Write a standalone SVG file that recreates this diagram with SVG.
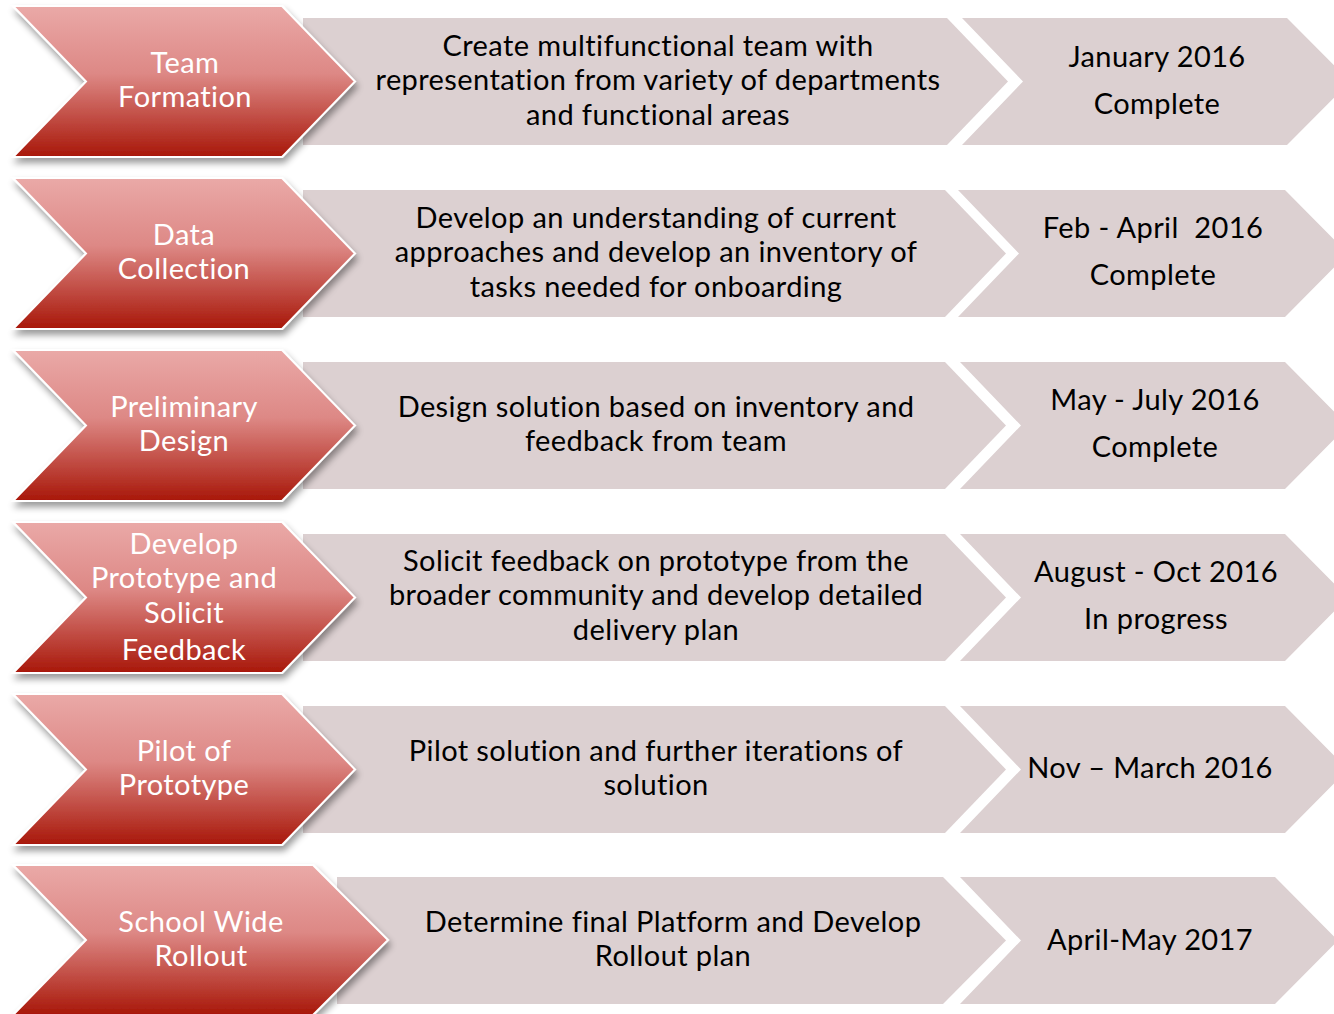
<svg xmlns="http://www.w3.org/2000/svg" width="1334" height="1014" viewBox="0 0 1334 1014">
<defs>
<linearGradient id="red" x1="0" y1="0" x2="0" y2="1">
<stop offset="0" stop-color="#EAA9A7"/>
<stop offset="0.45" stop-color="#DD8885"/>
<stop offset="1" stop-color="#A81709"/>
</linearGradient>
<filter id="sh" x="-10%" y="-10%" width="125%" height="130%">
<feGaussianBlur in="SourceAlpha" stdDeviation="3.5"/>
<feOffset dx="2" dy="5" result="b"/>
<feComponentTransfer><feFuncA type="linear" slope="0.4"/></feComponentTransfer>
<feMerge><feMergeNode/><feMergeNode in="SourceGraphic"/></feMerge>
</filter>
</defs>
<style>
.red{fill:url(#red);stroke:#fff;stroke-width:2;filter:url(#sh)}
.gray{fill:#DCD0D1}
.wt{font-family:Lato,"Open Sans",sans-serif;font-size:29px;letter-spacing:0.4px;fill:#fff;text-anchor:middle}
.bt{font-family:Lato,"Open Sans",sans-serif;font-size:29px;letter-spacing:0.4px;fill:#000;text-anchor:middle}
</style>
<rect width="1334" height="1014" fill="#fff"/>
<g id="connectors"/>

<g id="row1">
<path class="gray" d="M303,18 L947,18 L1008,81.5 L947,145 L303,145 Z"/>
<path class="gray" d="M962,18 L1287,18 L1350,81.5 L1287,145 L962,145 L1023,81.5 Z"/>
<path class="red" d="M13,6 L282,6 L355,81.5 L282,157 L13,157 L86,81.5 Z"/>
<text class="wt" x="185" y="73">Team</text>
<text class="wt" x="185" y="107">Formation</text>
<text class="bt" x="658" y="56">Create multifunctional team with</text>
<text class="bt" x="658" y="90">representation from variety of departments</text>
<text class="bt" x="658" y="125">and functional areas</text>
<text class="bt" x="1157" y="67">January 2016</text>
<text class="bt" x="1157" y="114">Complete</text>
</g>

<g id="row2">
<path class="gray" d="M303,190 L945,190 L1006,253.5 L945,317 L303,317 Z"/>
<path class="gray" d="M958,190 L1285,190 L1348,253.5 L1285,317 L958,317 L1019,253.5 Z"/>
<path class="red" d="M13,178 L282,178 L355,253.5 L282,329 L13,329 L86,253.5 Z"/>
<text class="wt" x="184" y="245">Data</text>
<text class="wt" x="184" y="279">Collection</text>
<text class="bt" x="656" y="228">Develop an understanding of current</text>
<text class="bt" x="656" y="262">approaches and develop an inventory of</text>
<text class="bt" x="656" y="297">tasks needed for onboarding</text>
<text class="bt" x="1153" y="238" xml:space="preserve">Feb - April  2016</text>
<text class="bt" x="1153" y="285">Complete</text>
</g>

<g id="row3">
<path class="gray" d="M303,362 L945,362 L1006,425.5 L945,489 L303,489 Z"/>
<path class="gray" d="M960,362 L1285,362 L1348,425.5 L1285,489 L960,489 L1021,425.5 Z"/>
<path class="red" d="M13,350 L282,350 L355,425.5 L282,501 L13,501 L86,425.5 Z"/>
<text class="wt" x="184" y="417">Preliminary</text>
<text class="wt" x="184" y="451">Design</text>
<text class="bt" x="656" y="417">Design solution based on inventory and</text>
<text class="bt" x="656" y="451">feedback from team</text>
<text class="bt" x="1155" y="410">May - July 2016</text>
<text class="bt" x="1155" y="457">Complete</text>
</g>

<g id="row4">
<path class="gray" d="M303,534 L945,534 L1006,597.5 L945,661 L303,661 Z"/>
<path class="gray" d="M960,534 L1285,534 L1348,597.5 L1285,661 L960,661 L1021,597.5 Z"/>
<path class="red" d="M13,522 L282,522 L355,597.5 L282,673 L13,673 L86,597.5 Z"/>
<text class="wt" x="184" y="554">Develop</text>
<text class="wt" x="184" y="588">Prototype and</text>
<text class="wt" x="184" y="623">Solicit</text>
<text class="wt" x="184" y="660">Feedback</text>
<text class="bt" x="656" y="571">Solicit feedback on prototype from the</text>
<text class="bt" x="656" y="605">broader community and develop detailed</text>
<text class="bt" x="656" y="640">delivery plan</text>
<text class="bt" x="1156" y="582">August - Oct 2016</text>
<text class="bt" x="1156" y="629">In progress</text>
</g>

<g id="row5">
<path class="gray" d="M303,706 L945,706 L1006,769.5 L945,833 L303,833 Z"/>
<path class="gray" d="M960,706 L1285,706 L1348,769.5 L1285,833 L960,833 L1021,769.5 Z"/>
<path class="red" d="M13,694 L282,694 L355,769.5 L282,845 L13,845 L86,769.5 Z"/>
<text class="wt" x="184" y="761">Pilot of</text>
<text class="wt" x="184" y="795">Prototype</text>
<text class="bt" x="656" y="761">Pilot solution and further iterations of</text>
<text class="bt" x="656" y="795">solution</text>
<text class="bt" x="1150" y="778">Nov – March 2016</text>
</g>

<g id="row6">
<path class="gray" d="M337,877 L943,877 L1006,940.5 L943,1004 L337,1004 Z"/>
<path class="gray" d="M960,877 L1275,877 L1338,940.5 L1275,1004 L960,1004 L1021,940.5 Z"/>
<path class="red" d="M13,865 L313,865 L388,940 L313,1015 L13,1015 L86,940 Z"/>
<text class="wt" x="201" y="932">School Wide</text>
<text class="wt" x="201" y="966">Rollout</text>
<text class="bt" x="673" y="932">Determine final Platform and Develop</text>
<text class="bt" x="673" y="966">Rollout plan</text>
<text class="bt" x="1150" y="950">April-May 2017</text>
</g>
</svg>
